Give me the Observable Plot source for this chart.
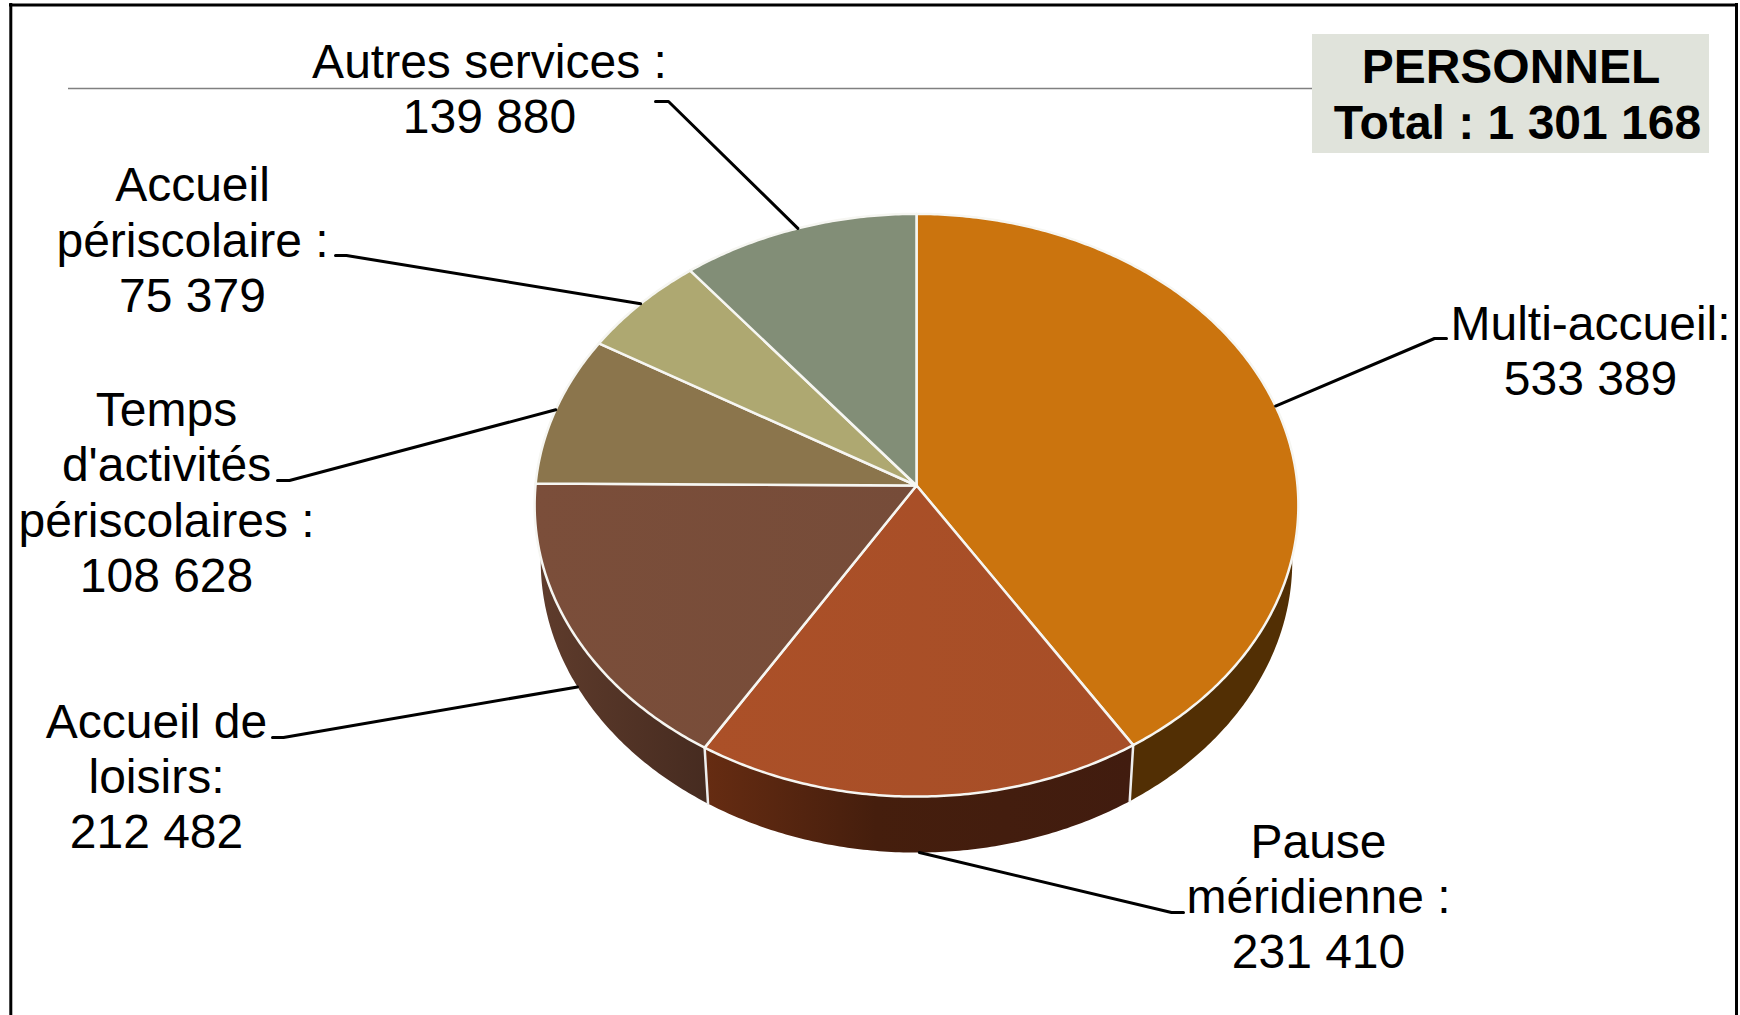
<!DOCTYPE html>
<html lang="fr">
<head>
<meta charset="utf-8">
<title>Personnel</title>
<style>
html, body { margin: 0; padding: 0; background: #fff; }
svg { display: block; }
</style>
<script src="https://cdn.jsdelivr.net/npm/d3@7"></script>
<script src="https://cdn.jsdelivr.net/npm/@observablehq/plot@0.6"></script>
</head>
<body>
<div id="chart"></div>
<script>
// ---- Data ----
const categories = ["Multi-accueil", "Pause méridienne", "Accueil de loisirs", "Temps d'activités périscolaires", "Accueil périscolaire", "Autres services"];
const values = [533389, 231410, 212482, 108628, 75379, 139880];
const labelHeads = ["Multi-accueil:", "Pause\nméridienne :", "Accueil de\nloisirs:", "Temps\nd'activités\npériscolaires :", "Accueil\npériscolaire :", "Autres services :"];
const titleLines = ["PERSONNEL", "Total : 1 301 168"];

// ---- Styles ----
const topColors = ["#cb740e", "url(#topRed)", "url(#topBrown)", "#8b754c", "#aea871", "#828e77"];
const wallColors = ["#522f04", "url(#wallRed)", "url(#wallBrown)", "#5a4a2c", "#6e6a45", "#525a4a"];

// ---- Layout (label anchors, leader elbows) ----
const labelX = [1590, 1318, 156, 166, 192, 489];
const labelY = [394, 967.5, 847.5, 591, 311, 132.5];
const elbowX = [1434, 1171, 283, 289, 346, 668];
const elbowEndX = [1446, 1183, 272, 277, 335, 655];
const elbowY = [338, 912, 737, 480, 255, 101];

// ---- Pie projection (tilted disc in perspective) ----
const cx = 916, cy = 485, sx = 381, sy = 290, persp = 0.0678, depth = 56, shrink = 0.984;
const project = (a) => {
  const u = Math.sin(a), v = -Math.cos(a), w = 1 - persp * v;
  return {x: cx + sx * u / w, y: cy + sy * v / w};
};
const lower = (p) => ({x: cx + shrink * (p.x - cx), y: p.y + depth});
const arcs = d3.pie().sort(null)(values);
const arcPoints = (d) => {
  const n = Math.max(2, Math.ceil((d.endAngle - d.startAngle) / 0.01));
  return d3.range(n + 1).map((i) => project(d.startAngle + (d.endAngle - d.startAngle) * i / n));
};
const apex = {x: cx, y: cy};
const topShape = (d) => [apex, ...arcPoints(d), apex];
const wallShape = (d) => {
  const a = arcPoints(d);
  const s = [...a, ...a.map(lower).reverse()];
  return [...s, s[0]];
};
const edgeShape = (d) => { const p = project(d.startAngle); return [p, lower(p)]; };
const xy = {x: "x", y: "y"};

const fmt = d3.formatLocale({thousands: " ", grouping: [3], decimal: ",", currency: ["", ""]}).format(",d");
const labels = categories.map((c, i) => ({
  name: c,
  text: labelHeads[i] + "\n" + fmt(values[i]),
  x: labelX[i],
  y: labelY[i]
}));
const leaders = arcs.map((d, i) => {
  const mid = (d.startAngle + d.endAngle) / 2;
  const p = project(mid);
  const start = -Math.cos(mid) > 0 ? lower(p) : p;
  return [start, {x: elbowX[i], y: elbowY[i]}, {x: elbowEndX[i], y: elbowY[i]}];
});

const gradient = (defs, id, stops) => {
  const g = defs.append("linearGradient").attr("id", id).attr("x1", 0).attr("x2", 1).attr("y1", 0).attr("y2", 0);
  stops.forEach(([o, c]) => g.append("stop").attr("offset", o).attr("stop-color", c));
};
const defsMark = () => {
  const defs = d3.create("svg:defs");
  gradient(defs, "wallRed", [[0, "#662c12"], [0.4, "#451e0d"], [1, "#411c0f"]]);
  gradient(defs, "wallBrown", [[0, "#5f3c2c"], [1, "#462b20"]]);
  gradient(defs, "topRed", [[0, "#ab5028"], [1, "#a74e27"]]);
  gradient(defs, "topBrown", [[0, "#7b4e3a"], [1, "#764c39"]]);
  return defs.node();
};

const font = "'Liberation Sans', Arial, sans-serif";
const chart = Plot.plot({
  width: 1740,
  height: 1015,
  margin: 0,
  style: {background: "#fff", fontFamily: font},
  x: {domain: [0, 1740], range: [0, 1740], axis: null},
  y: {domain: [0, 1015], range: [0, 1015], axis: null},
  marks: [
    defsMark,
    // frame
    Plot.ruleX([10.3, 1736], {y1: 3, y2: 1015, stroke: "#000", strokeWidth: 3}),
    Plot.ruleY([4.5], {x1: 9, x2: 1737.5, stroke: "#000", strokeWidth: 3}),
    // thin grey rule
    Plot.ruleY([88], {x1: 68, x2: 1312, stroke: "#808080", strokeWidth: 1.5}),
    // title box
    Plot.rect([0], {x1: () => 1312, x2: () => 1709, y1: () => 34, y2: () => 153, fill: "#e0e3db", inset: 0}),
    // pie walls
    ...arcs.map((d, i) => Plot.line(wallShape(d), {...xy, fill: wallColors[i], stroke: "none"})),
    ...arcs.map((d) => Plot.line(edgeShape(d), {...xy, stroke: "#eee", strokeWidth: 2.5})),
    // pie top
    ...arcs.map((d, i) => Plot.line(topShape(d), {...xy, fill: topColors[i], stroke: "#f6f6f2", strokeWidth: 2.5})),
    // leaders
    ...leaders.map((l) => Plot.line(l, {...xy, stroke: "#000", strokeWidth: 3})),
    // labels
    Plot.text(labels, {x: "x", y: "y", text: "text", fontSize: 48, lineHeight: 1.146, lineAnchor: "bottom", textAnchor: "middle", fill: "#000"}),
    Plot.text([titleLines[0]], {x: () => 1510.5, y: () => 82, text: (d) => d, fontSize: 48, fontWeight: "bold", lineAnchor: "bottom", textAnchor: "middle", fill: "#000"}),
    Plot.text([titleLines[1]], {x: () => 1517, y: () => 138, text: (d) => d, fontSize: 48, fontWeight: "bold", lineAnchor: "bottom", textAnchor: "middle", fill: "#000"})
  ]
});
document.getElementById("chart").append(chart);
</script>
</body>
</html>
